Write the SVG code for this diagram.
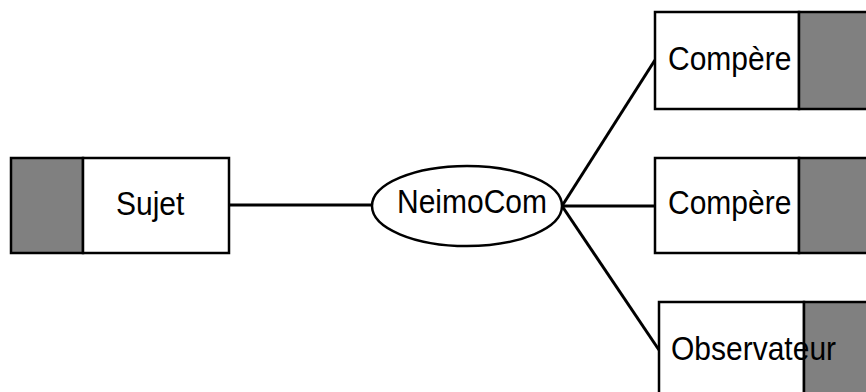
<svg xmlns="http://www.w3.org/2000/svg" width="866" height="392" viewBox="0 0 866 392">
<style>
.w{fill:#fff;stroke:#000;stroke-width:2.5}
.g{fill:#808080;stroke:#000;stroke-width:2.5}
.t{font-family:"Liberation Sans",Arial,sans-serif;font-size:30px;fill:#000}
.c{stroke:#000;stroke-width:3;fill:none}
</style>
<rect width="866" height="392" fill="#fff"/>
<g id="connectors">
<line class="c" x1="229" y1="205" x2="373" y2="205"/>
<line class="c" x1="562" y1="206" x2="655" y2="60"/>
<line class="c" x1="562" y1="206" x2="655" y2="206"/>
<line class="c" x1="562" y1="206" x2="659" y2="350"/>
</g>
<g id="sujet">
<rect class="g" x="11" y="158" width="72" height="95"/>
<rect class="w" x="83" y="158" width="146" height="95"/>
<text class="t" transform="translate(116,215) scale(1,1.08)">Sujet</text>
</g>
<g id="neimocom">
<ellipse class="w" cx="467" cy="206" rx="95" ry="40"/>
<text class="t" transform="translate(397,213) scale(1,1.08)">NeimoCom</text>
</g>
<g id="compere1">
<rect class="w" x="655" y="12" width="144" height="97"/>
<rect class="g" x="799" y="12" width="70" height="97"/>
<text class="t" transform="translate(668,70) scale(1,1.08)">Compère</text>
</g>
<g id="compere2">
<rect class="w" x="655" y="158" width="144" height="95"/>
<rect class="g" x="799" y="158" width="70" height="95"/>
<text class="t" transform="translate(668,214) scale(1,1.08)">Compère</text>
</g>
<g id="observateur">
<rect class="w" x="659" y="302" width="145" height="95"/>
<rect class="g" x="804" y="302" width="65" height="95"/>
<text class="t" transform="translate(671,360) scale(1,1.08)">Observateur</text>
</g>
</svg>
